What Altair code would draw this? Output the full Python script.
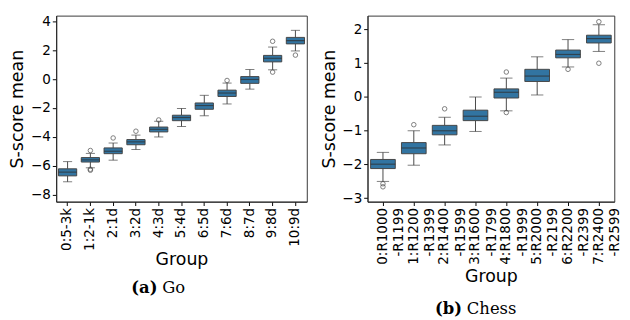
import altair as alt
import pandas as pd

# ---------------- Go ----------------
go_groups = ["0:5-3k", "1:2-1k", "2:1d", "3:2d", "4:3d", "5:4d", "6:5d", "7:6d", "8:7d", "9:8d", "10:9d"]
go_lo = [-7.12, -6.15, -5.62, -4.88, -4.01, -3.28, -2.54, -1.72, -0.69, 0.65, 1.96]
go_q1 = [-6.71, -5.75, -5.17, -4.55, -3.66, -2.88, -2.09, -1.20, -0.29, 1.20, 2.45]
go_med = [-6.45, -5.60, -5.00, -4.35, -3.48, -2.66, -1.83, -0.96, -0.02, 1.45, 2.68]
go_q3 = [-6.22, -5.44, -4.77, -4.19, -3.32, -2.50, -1.65, -0.76, 0.18, 1.65, 2.90]
go_hi = [-5.72, -5.15, -4.43, -3.88, -2.92, -2.03, -1.12, -0.27, 0.67, 2.23, 3.39]
go_out_group = ["1:2-1k", "1:2-1k", "1:2-1k", "2:1d", "3:2d", "4:3d", "7:6d", "9:8d", "9:8d", "10:9d"]
go_out_value = [-4.95, -6.25, -6.32, -4.08, -3.61, -2.83, -0.09, 2.63, 0.49, 1.67]

# ---------------- Chess ----------------
ch_groups = ["0:R1000\n-R1199", "1:R1200\n-R1399", "2:R1400\n-R1599", "3:R1600\n-R1799",
             "4:R1800\n-R1999", "5:R2000\n-R2199", "6:R2200\n-R2399", "7:R2400\n-R2599"]
ch_lo = [-2.50, -2.02, -1.42, -1.02, -0.41, 0.06, 0.89, 1.35]
ch_q1 = [-2.12, -1.68, -1.12, -0.70, -0.03, 0.46, 1.16, 1.60]
ch_med = [-1.99, -1.51, -1.00, -0.57, 0.14, 0.62, 1.26, 1.73]
ch_q3 = [-1.85, -1.35, -0.84, -0.39, 0.24, 0.82, 1.39, 1.83]
ch_hi = [-1.64, -1.00, -0.60, 0.00, 0.56, 1.19, 1.70, 2.14]
ch_out_group = [ch_groups[0], ch_groups[0], ch_groups[1], ch_groups[2], ch_groups[4], ch_groups[4],
                ch_groups[6], ch_groups[7], ch_groups[7]]
ch_out_value = [-2.57, -2.66, -0.82, -0.35, 0.74, -0.46, 0.82, 2.23, 1.00]

BOX_FILL = "#3274a1"
LINE = "#444444"


def panel(groups, lo, q1, med, q3, hi, og, ov, domain, ticks, width, height,
          cap_bold, cap_text, cap_x, cap_y, title_pad):
    df = pd.DataFrame({"group": groups, "lo": lo, "q1": q1, "med": med, "q3": q3, "hi": hi})
    odf = pd.DataFrame({"group": og, "value": ov})
    band = width / len(groups)
    x = alt.X("group:N", sort=groups,
              scale=alt.Scale(paddingInner=0, paddingOuter=0),
              axis=alt.Axis(title="Group", labelAngle=270, labelExpr="split(datum.label, '\\n')",
                            labelLineHeight=17, titlePadding=title_pad))
    yscale = alt.Scale(domain=domain, nice=False, zero=False)
    yaxis = alt.Axis(title="S-score mean", values=ticks, format="d",
                     labelExpr="replace(datum.label, '-', '\u2212')", labelOverlap=False)

    def Y(field):
        return alt.Y(field, scale=yscale, axis=yaxis)

    base = alt.Chart(df)
    w_low = base.mark_rule(color=LINE, strokeWidth=1).encode(x=x, y=Y("lo:Q"), y2="q1:Q")
    w_high = base.mark_rule(color=LINE, strokeWidth=1).encode(x=x, y=Y("q3:Q"), y2="hi:Q")
    cap_low = base.mark_tick(color=LINE, thickness=1, size=band * 0.4, orient="horizontal").encode(x=x, y=Y("lo:Q"))
    cap_high = base.mark_tick(color=LINE, thickness=1, size=band * 0.4, orient="horizontal").encode(x=x, y=Y("hi:Q"))
    box = base.mark_bar(fill=BOX_FILL, stroke=LINE, strokeWidth=1,
                        width=alt.RelativeBandSize(0.8)).encode(x=x, y=Y("q1:Q"), y2="q3:Q")
    median = base.mark_tick(color="#2d2d2d", thickness=1.2, size=band * 0.8, orient="horizontal").encode(x=x, y=Y("med:Q"))
    outl = alt.Chart(odf).mark_point(shape="circle", filled=False, color=LINE, size=22, strokeWidth=1).encode(
        x=x, y=Y("value:Q"))
    capdf = pd.DataFrame({"b": [cap_bold], "t": [cap_text]})
    cap1 = alt.Chart(capdf).mark_text(font="DejaVu Serif", fontSize=17, fontWeight="bold", align="right",
                                      baseline="middle").encode(
        text="b:N", x=alt.value(cap_x - 2), y=alt.value(cap_y))
    cap2 = alt.Chart(capdf).mark_text(font="DejaVu Serif", fontSize=17, align="left",
                                      baseline="middle").encode(
        text="t:N", x=alt.value(cap_x + 3), y=alt.value(cap_y))
    return alt.layer(w_low, w_high, cap_low, cap_high, box, median, outl, cap1, cap2).properties(
        width=width, height=height)


left = panel(go_groups, go_lo, go_q1, go_med, go_q3, go_hi, go_out_group, go_out_value,
             [-8.5, 4.41], [4, 2, 0, -2, -4, -6, -8], 260, 193, "(a)", "Go", 107, 283, 1)
right = panel(ch_groups, ch_lo, ch_q1, ch_med, ch_q3, ch_hi, ch_out_group, ch_out_value,
              [-3.1, 2.41], [2, 1, 0, -1, -2, -3], 256, 193, "(b)", "Chess", 100, 305, 4)

chart = alt.hconcat(left, right, spacing=12).properties(padding=0).configure_view(
    stroke="#333333", strokeWidth=1
).configure_axis(
    labelFont="DejaVu Sans", labelFontSize=14, labelColor="black",
    titleFont="DejaVu Sans", titleFontSize=18, titleFontWeight="normal", titleColor="black",
    tickSize=4, tickColor="black", domainColor="#222222", labelPadding=2, grid=False
).configure_axisY(titlePadding=4)

chart.save("out.html", embed_options={"renderer": "svg", "actions": False})
